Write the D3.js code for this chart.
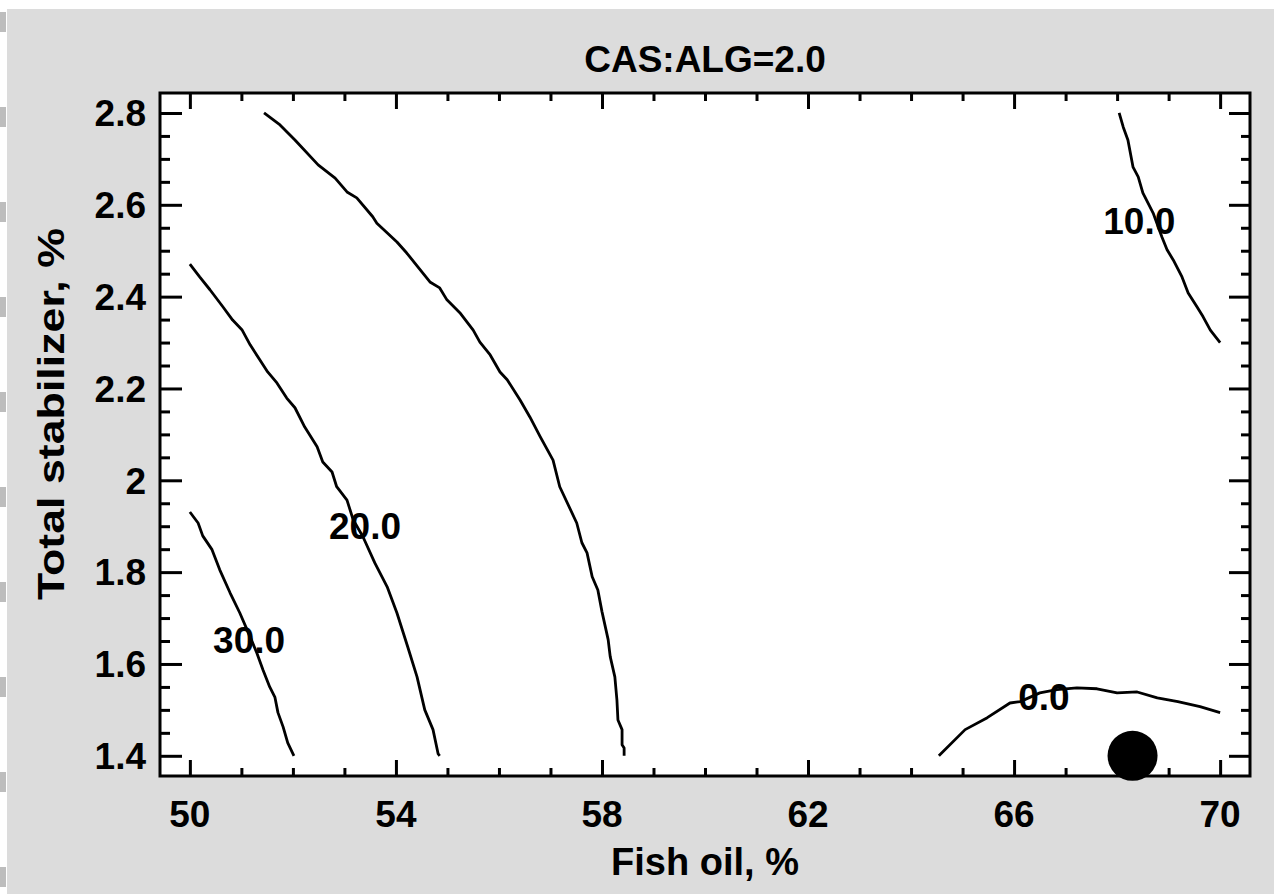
<!DOCTYPE html>
<meta charset="utf-8">
<style>
body { margin: 0; background: #fff; }
svg { font-family: "Liberation Sans", Arial, sans-serif; font-weight: bold; }
</style>
<body>
<script src="https://d3js.org/d3.v7.min.js"></script>
<script>

// chart values
var title = "CAS:ALG=2.0";
var xLabel = "Fish oil, %";
var yLabel = "Total stabilizer, %";
var xMajor = [50, 54, 58, 62, 66, 70];
var yMajor = [1.4, 1.6, 1.8, 2.0, 2.2, 2.4, 2.6, 2.8];
var yTickText = ["1.4", "1.6", "1.8", "2", "2.2", "2.4", "2.6", "2.8"];

// contour lines as [fish oil, stabilizer] points
var c30 = [[50.0,1.931],[50.16,1.907],[50.25,1.879],[50.43,1.849],[50.58,1.805],[50.78,1.755],[50.97,1.711],
  [51.17,1.659],[51.30,1.624],[51.42,1.587],[51.55,1.550],[51.65,1.528],[51.71,1.494],[51.81,1.463],[51.90,1.428],[52.02,1.40]];
var c20 = [[50.0,2.471],[50.19,2.443],[50.39,2.415],[50.64,2.378],[50.83,2.349],[51.01,2.328],[51.17,2.295],
  [51.36,2.262],[51.51,2.236],[51.69,2.212],[51.88,2.179],[52.04,2.158],[52.23,2.116],[52.47,2.073],[52.58,2.040],
  [52.76,2.018],[52.85,1.986],[53.05,1.957],[53.17,1.914],[53.36,1.877],[53.59,1.820],[53.83,1.768],[54.02,1.711],
  [54.23,1.637],[54.41,1.572],[54.56,1.500],[54.72,1.457],[54.82,1.404],[54.85,1.40]];
var c10a = [[51.44,2.800],[51.75,2.774],[52.04,2.741],[52.49,2.687],[52.82,2.658],[53.05,2.628],[53.24,2.615],
  [53.55,2.574],[53.63,2.560],[54.02,2.519],[54.21,2.495],[54.41,2.467],[54.66,2.432],[54.85,2.419],[54.99,2.393],
  [55.24,2.365],[55.50,2.327],[55.63,2.301],[55.83,2.273],[56.02,2.236],[56.16,2.219],[56.41,2.175],[56.60,2.138],
  [56.80,2.095],[57.05,2.044],[57.18,1.986],[57.51,1.907],[57.61,1.864],[57.71,1.842],[57.81,1.790],[57.92,1.761],
  [58.00,1.714],[58.12,1.653],[58.16,1.616],[58.25,1.572],[58.29,1.522],[58.31,1.478],[58.39,1.457],[58.39,1.424],
  [58.43,1.417],[58.43,1.40]];
var c10b = [[68.04,2.800],[68.12,2.769],[68.21,2.741],[68.31,2.682],[68.41,2.661],[68.50,2.626],[68.70,2.582],
  [68.87,2.530],[68.97,2.502],[69.09,2.480],[69.26,2.443],[69.38,2.408],[69.55,2.378],[69.67,2.356],[69.81,2.327],[70.0,2.30]];
var c0 = [[64.54,1.40],[65.05,1.457],[65.48,1.483],[65.92,1.515],[66.12,1.518],[66.50,1.537],[66.83,1.544],
  [67.22,1.548],[67.61,1.546],[68.00,1.537],[68.39,1.539],[68.78,1.526],[69.18,1.518],[69.61,1.507],[70.0,1.494]];
var contours = [c30, c20, c10a, c10b, c0];

var labelText = ["30.0", "20.0", "10.0", "0.0"];
var labelPos = [[51.15,1.653],[53.40,1.901],[68.43,2.565],[66.58,1.528]];

var optimum = [68.3, 1.4];

var W = 1274, H = 894;
var plot = {left: 160, right: 1250, top: 93, bottom: 776};
var fs = "37px";

var x = d3.scaleLinear().domain([49.42, 70.58]).range([plot.left, plot.right]);
var y = d3.scaleLinear().domain([1.356, 2.8435]).range([plot.bottom, plot.top]);

var svg = d3.select("body").append("svg")
  .attr("width", W).attr("height", H);

// background panel
svg.append("rect").attr("x", 7).attr("y", 9).attr("width", W - 7).attr("height", H - 9)
  .attr("fill", "#dcdcdc");
svg.append("line").attr("x1", 3).attr("x2", 3).attr("y1", 12).attr("y2", H)
  .attr("stroke", "#bdbdbd").attr("stroke-width", 6).attr("stroke-dasharray", "20,75");

svg.append("rect")
  .attr("x", plot.left).attr("y", plot.top)
  .attr("width", plot.right - plot.left).attr("height", plot.bottom - plot.top)
  .attr("fill", "#fff");

// ticks pointing inward on all four sides
var xMinor = d3.range(50, 71, 1).filter(function(v) { return xMajor.indexOf(v) < 0; });
var yMinor = d3.range(0, 29).map(function(i) { return +(1.4 + i * 0.05).toFixed(2); })
  .filter(function(v) { return yMajor.indexOf(v) < 0; });

function addAxes(g, axis) {
  g.call(axis);
  g.select(".domain").remove();
  g.selectAll("line").attr("stroke", "#000").attr("stroke-width", 3);
  g.selectAll("text").remove();
}

[["bottom", plot.bottom, 16, 8], ["top", plot.top, 16, 8]].forEach(function(s) {
  var mk = s[0] == "bottom" ? d3.axisTop : d3.axisBottom;
  var gM = svg.append("g").attr("transform", "translate(0," + s[1] + ")");
  addAxes(gM, mk(x).tickValues(xMajor).tickSize(s[2]));
  var gm = svg.append("g").attr("transform", "translate(0," + s[1] + ")");
  addAxes(gm, mk(x).tickValues(xMinor).tickSize(s[3]));
});
[["left", plot.left, 22, 10], ["right", plot.right, 21, 9]].forEach(function(s) {
  var mk = s[0] == "left" ? d3.axisRight : d3.axisLeft;
  var gM = svg.append("g").attr("transform", "translate(" + s[1] + ",0)");
  addAxes(gM, mk(y).tickValues(yMajor).tickSize(s[2]));
  var gm = svg.append("g").attr("transform", "translate(" + s[1] + ",0)");
  addAxes(gm, mk(y).tickValues(yMinor).tickSize(s[3]));
});

// contours
var line = d3.line().x(function(d) { return x(d[0]); }).y(function(d) { return y(d[1]); });
svg.selectAll("path.contour").data(contours).enter().append("path")
  .attr("class", "contour")
  .attr("d", line)
  .attr("fill", "none").attr("stroke", "#000").attr("stroke-width", 2.8)
  .attr("stroke-linejoin", "round");

svg.selectAll("text.clabel").data(labelText).enter().append("text")
  .attr("class", "clabel")
  .attr("x", function(d, i) { return x(labelPos[i][0]); })
  .attr("y", function(d, i) { return y(labelPos[i][1]); })
  .attr("dy", "0.36em")
  .attr("text-anchor", "middle")
  .style("font-size", fs)
  .text(function(d) { return d; });

// frame
svg.append("rect")
  .attr("x", plot.left).attr("y", plot.top)
  .attr("width", plot.right - plot.left).attr("height", plot.bottom - plot.top)
  .attr("fill", "none").attr("stroke", "#000").attr("stroke-width", 3);

svg.append("circle")
  .attr("cx", x(optimum[0])).attr("cy", y(optimum[1])).attr("r", 25)
  .attr("fill", "#000");

// tick labels
svg.selectAll("text.xt").data(xMajor).enter().append("text")
  .attr("class", "xt")
  .attr("x", function(d) { return x(d); }).attr("y", 827)
  .attr("text-anchor", "middle").style("font-size", fs)
  .text(function(d) { return d; });

svg.selectAll("text.yt").data(yMajor).enter().append("text")
  .attr("class", "yt")
  .attr("x", 146).attr("y", function(d) { return y(d); })
  .attr("dy", "0.36em")
  .attr("text-anchor", "end").style("font-size", fs)
  .text(function(d, i) { return yTickText[i]; });

svg.append("text")
  .attr("x", (plot.left + plot.right) / 2).attr("y", 72)
  .attr("text-anchor", "middle").style("font-size", fs)
  .text(title);

svg.append("text")
  .attr("x", (plot.left + plot.right) / 2).attr("y", 875)
  .attr("text-anchor", "middle").style("font-size", "38px")
  .text(xLabel);

svg.append("text")
  .attr("transform", "translate(64,414) rotate(-90)")
  .attr("text-anchor", "middle").style("font-size", fs)
  .attr("textLength", 372).attr("lengthAdjust", "spacingAndGlyphs")
  .text(yLabel);

</script>
